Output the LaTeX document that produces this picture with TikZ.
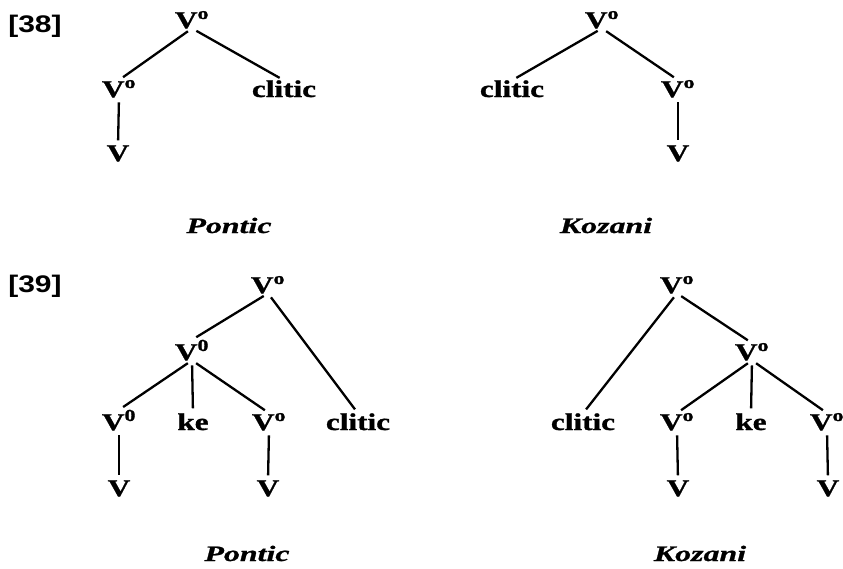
\documentclass[tikz,border=0pt]{standalone}
\usepackage{fontspec}
\newfontfamily\treefont[FakeStretch=1.3,FakeBold=1.2]{Liberation Serif}
\newfontfamily\capfont[FakeStretch=1.45,FakeBold=1]{Liberation Serif}
\newfontfamily\numfont[FakeStretch=1.25]{Liberation Sans}
\newcommand{\Vo}{V\textsuperscript{o}}
\newcommand{\Vz}{V\textsuperscript{0}}
\begin{document}
\begin{tikzpicture}[x=1pt,y=-1pt,
  lab/.style={inner sep=0pt, outer sep=0pt, anchor=base, font=\treefont\fontsize{24}{24}\selectfont\bfseries},
  captxt/.style={inner sep=0pt, outer sep=0pt, anchor=base, font=\capfont\fontsize{22}{22}\selectfont\bfseries\itshape},
  numtxt/.style={inner sep=0pt, outer sep=0pt, anchor=base, font=\numfont\fontsize{24}{24}\selectfont\bfseries},
  edge/.style={line width=2.3pt, shorten <=5pt, shorten >=5pt}]
\useasboundingbox (0,0) rectangle (843,568);
% labels
\node[numtxt] (n38) at (35,32) {[38]};
\node[numtxt] (n39) at (35,292) {[39]};
% [38] Pontic
\node[lab] (a0) at (192,28) {\Vo};
\node[lab] (a1) at (119,97) {\Vo};
\node[lab] (a2) at (284,97) {clitic};
\node[lab] (a3) at (118,161) {V};
\node[captxt] (acap) at (229,233) {Pontic};
\draw[edge] (a0.south) -- (a1.north);
\draw[edge] (a0.south) -- (a2.north);
\draw[edge] (a1.south) -- (a3.north);
% [38] Kozani
\node[lab] (b0) at (602,28) {\Vo};
\node[lab] (b1) at (512,97) {clitic};
\node[lab] (b2) at (678,97) {\Vo};
\node[lab] (b3) at (678,161) {V};
\node[captxt] (bcap) at (606,233) {Kozani};
\draw[edge] (b0.south) -- (b1.north);
\draw[edge] (b0.south) -- (b2.north);
\draw[edge] (b2.south) -- (b3.north);
% [39] Pontic
\node[lab] (c0) at (268,293) {\Vo};
\node[lab] (c1) at (192,360) {\Vz};
\node[lab] (c2) at (358,430) {clitic};
\node[lab] (c3) at (119,430) {\Vz};
\node[lab] (c4) at (193,430) {ke};
\node[lab] (c5) at (269,430) {\Vo};
\node[lab] (c6) at (119,496) {V};
\node[lab] (c7) at (268,496) {V};
\node[captxt] (ccap) at (247,561) {Pontic};
\draw[edge] (c0.south) -- (c1.north);
\draw[edge] (c0.south) -- (c2.north);
\draw[edge] (c1.south) -- (c3.north);
\draw[edge] (c1.south) -- (c4.north);
\draw[edge] (c1.south) -- (c5.north);
\draw[edge] (c3.south) -- (c6.north);
\draw[edge] (c5.south) -- (c7.north);
% [39] Kozani
\node[lab] (d0) at (677,293) {\Vo};
\node[lab] (d1) at (583,430) {clitic};
\node[lab] (d2) at (752,360) {\Vo};
\node[lab] (d3) at (677,430) {\Vo};
\node[lab] (d4) at (751,430) {ke};
\node[lab] (d5) at (827,430) {\Vo};
\node[lab] (d6) at (678,496) {V};
\node[lab] (d7) at (828,496) {V};
\node[captxt] (dcap) at (700,561) {Kozani};
\draw[edge] (d0.south) -- (d1.north);
\draw[edge] (d0.south) -- (d2.north);
\draw[edge] (d2.south) -- (d3.north);
\draw[edge] (d2.south) -- (d4.north);
\draw[edge] (d2.south) -- (d5.north);
\draw[edge] (d3.south) -- (d6.north);
\draw[edge] (d5.south) -- (d7.north);
\end{tikzpicture}
\end{document}
